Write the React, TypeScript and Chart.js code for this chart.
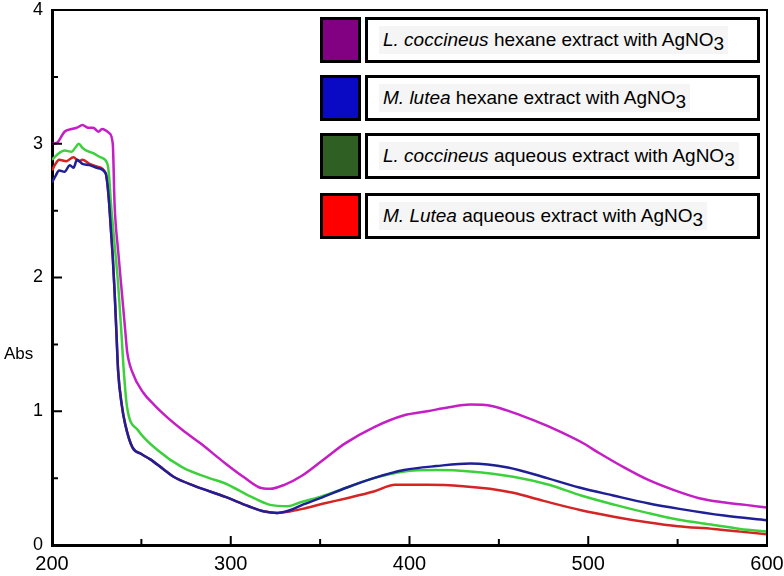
import React, { useEffect, useRef } from "react";
import { Chart, registerables } from "chart.js";
Chart.register(...registerables);

// L. coccineus hexane extract with AgNO3
const lcHexNm = [200, 203, 207, 211, 214, 217, 220, 223, 226, 228, 230, 232, 234, 235, 237, 239, 241, 242, 245, 251, 257, 264, 273, 283, 297, 307, 316, 322, 330, 340, 352, 364, 380, 397, 410, 422, 434, 446, 458, 470, 479, 496, 507, 520, 533, 548, 562, 575, 588, 600];
const lcHexAbs = [3.0, 3.01, 3.09, 3.11, 3.12, 3.14, 3.12, 3.12, 3.09, 3.11, 3.1, 3.08, 3.0, 2.55, 2.2, 1.9, 1.6, 1.45, 1.29, 1.14, 1.05, 0.96, 0.86, 0.76, 0.61, 0.51, 0.43, 0.42, 0.45, 0.52, 0.64, 0.76, 0.88, 0.97, 1.0, 1.03, 1.05, 1.04, 0.99, 0.93, 0.88, 0.77, 0.68, 0.58, 0.49, 0.41, 0.35, 0.32, 0.3, 0.28];

// M. lutea hexane extract with AgNO3
const mlHexNm = [200, 202, 204, 207, 210, 212, 214, 217, 221, 225, 230, 231, 232, 233, 234, 235, 236, 237, 239, 241, 245, 250, 255, 262, 268, 280, 297, 310, 319, 326, 333, 340, 350, 365, 380, 397, 415, 434, 455, 477, 495, 514, 534, 551, 576, 600];
const mlHexAbs = [2.71, 2.76, 2.8, 2.79, 2.84, 2.82, 2.88, 2.85, 2.84, 2.82, 2.78, 2.7, 2.55, 2.35, 2.15, 1.9, 1.6, 1.3, 1.05, 0.9, 0.73, 0.68, 0.64, 0.57, 0.51, 0.44, 0.36, 0.29, 0.25, 0.24, 0.26, 0.3, 0.35, 0.43, 0.5, 0.56, 0.59, 0.61, 0.58, 0.5, 0.43, 0.37, 0.31, 0.27, 0.22, 0.185];

// L. coccineus aqueous extract with AgNO3
const lcAqNm = [200, 203, 207, 211, 213, 215, 217, 219, 223, 227, 231, 232, 233, 235, 237, 239, 240, 242, 248, 259, 273, 288, 297, 310, 322, 332, 339, 350, 365, 380, 397, 415, 434, 458, 478, 496, 515, 533, 550, 570, 585, 600];
const lcAqAbs = [2.88, 2.92, 2.95, 2.94, 2.97, 3.0, 2.97, 2.95, 2.93, 2.9, 2.85, 2.75, 2.55, 2.25, 1.95, 1.55, 1.33, 1.03, 0.86, 0.71, 0.58, 0.5, 0.46, 0.37, 0.3, 0.29, 0.32, 0.36, 0.43, 0.5, 0.55, 0.56, 0.55, 0.51, 0.45, 0.37, 0.3, 0.24, 0.19, 0.15, 0.12, 0.1];

// M. Lutea aqueous extract with AgNO3
const mlAqNm = [200, 202, 204, 208, 212, 215, 217, 221, 225, 230, 231, 232, 233, 234, 235, 236, 237, 239, 241, 245, 250, 255, 262, 268, 280, 297, 310, 319, 326, 333, 340, 352, 365, 380, 392, 410, 430, 445, 458, 475, 496, 515, 533, 550, 570, 585, 600];
const mlAqAbs = [2.8, 2.85, 2.88, 2.87, 2.9, 2.87, 2.88, 2.85, 2.83, 2.78, 2.7, 2.55, 2.35, 2.15, 1.9, 1.6, 1.3, 1.05, 0.9, 0.73, 0.68, 0.64, 0.57, 0.51, 0.44, 0.36, 0.29, 0.25, 0.24, 0.25, 0.27, 0.31, 0.35, 0.4, 0.45, 0.45, 0.44, 0.42, 0.39, 0.33, 0.26, 0.21, 0.17, 0.14, 0.12, 0.1, 0.08];

const xMajorTicks = [200, 300, 400, 500, 600];
const xMinorTicks = [250, 350, 450, 550];
const yMajorTicks = [0, 1, 2, 3, 4];
const yMinorTicks = [0.5, 1.5, 2.5, 3.5];

const legendSpecies = ["L. coccineus", "M. lutea", "L. coccineus", "M. Lutea"];
const legendRest = [" hexane extract with AgNO", " hexane extract with AgNO", " aqueous extract with AgNO", " aqueous extract with AgNO"];
const legendSub = ["3", "3", "3", "3"];
const swatchColors = ["#820082", "#0a0ac4", "#2f5f22", "#ff0000"];
const lineColors = ["#c41ec4", "#1f1f96", "#3cd13c", "#d42424"];

const FONT = '"Liberation Sans", Arial, Helvetica, sans-serif';

function toPts(xs: number[], ys: number[]) {
  return xs.map((x, i) => ({ x, y: ys[i] }));
}

const framePlugin = {
  id: "frameTicks",
  afterDraw(chart: any) {
    const { ctx, chartArea, scales } = chart;
    const xs = scales.x;
    const ys = scales.y;
    ctx.save();
    ctx.strokeStyle = "#000";
    ctx.lineWidth = 2;
    ctx.beginPath();
    ctx.moveTo(chartArea.left, chartArea.top);
    ctx.lineTo(chartArea.right, chartArea.top);
    ctx.lineTo(chartArea.right, chartArea.bottom);
    ctx.stroke();
    ctx.lineWidth = 2;
    ctx.beginPath();
    xMajorTicks.forEach((v) => {
      const px = xs.getPixelForValue(v);
      ctx.moveTo(px, chartArea.bottom);
      ctx.lineTo(px, chartArea.bottom - 9);
    });
    xMinorTicks.forEach((v) => {
      const px = xs.getPixelForValue(v);
      ctx.moveTo(px, chartArea.bottom);
      ctx.lineTo(px, chartArea.bottom - 6);
    });
    yMajorTicks.forEach((v) => {
      const py = ys.getPixelForValue(v);
      ctx.moveTo(chartArea.left, py);
      ctx.lineTo(chartArea.left + 10, py);
    });
    yMinorTicks.forEach((v) => {
      const py = ys.getPixelForValue(v);
      ctx.moveTo(chartArea.left, py);
      ctx.lineTo(chartArea.left + 6, py);
    });
    ctx.stroke();
    ctx.restore();
  },
};

export default function App() {
  const ref = useRef<HTMLCanvasElement>(null);
  useEffect(() => {
    document.body.style.margin = "0";
    const series = [
      toPts(lcHexNm, lcHexAbs),
      toPts(mlHexNm, mlHexAbs),
      toPts(lcAqNm, lcAqAbs),
      toPts(mlAqNm, mlAqAbs),
    ];
    const chart = new Chart(ref.current as HTMLCanvasElement, {
      type: "line",
      data: {
        datasets: series.map((d, i) => ({
          label: legendSpecies[i] + legendRest[i] + legendSub[i],
          data: d,
          borderColor: lineColors[i],
          borderWidth: 2.5,
          pointRadius: 0,
          fill: false,
          cubicInterpolationMode: "monotone" as const,
        })),
      },
      options: {
        responsive: false,
        animation: false,
        layout: { padding: { top: 10, right: 17, left: 0, bottom: 0 } },
        plugins: { legend: { display: false }, tooltip: { enabled: false } },
        scales: {
          x: {
            type: "linear",
            min: 200,
            max: 600,
            afterFit: (s: any) => { s.height = 31; s.paddingLeft = 0; s.paddingRight = 0; },
            afterBuildTicks: (s: any) => { s.ticks = xMajorTicks.map((v) => ({ value: v })); },
            grid: { display: false, drawTicks: false },
            border: { display: true, color: "#000", width: 3 },
            ticks: { color: "#000", padding: 7, font: { family: FONT, size: 20 }, maxRotation: 0 },
          },
          y: {
            type: "linear",
            min: 0,
            max: 4,
            afterFit: (s: any) => { s.width = 52; s.paddingTop = 0; s.paddingBottom = 0; },
            afterBuildTicks: (s: any) => { s.ticks = yMajorTicks.map((v) => ({ value: v })); },
            grid: { display: false, drawTicks: false },
            border: { display: true, color: "#000", width: 3 },
            ticks: { color: "#000", padding: 9, font: { family: FONT, size: 18 } },
          },
        },
      },
      plugins: [framePlugin],
    } as any);
    return () => chart.destroy();
  }, []);

  const rowTops = [17, 75, 133, 193];
  return (
    <div style={{ position: "relative", width: 784, height: 576, fontFamily: FONT, color: "#000" }}>
      <canvas ref={ref} width={784} height={576} style={{ display: "block" }} />
      <div style={{ position: "absolute", left: 4, top: 344, fontSize: 17 }}>Abs</div>
      {legendSpecies.map((sp, i) => (
        <React.Fragment key={i}>
          <div
            style={{
              position: "absolute",
              left: 320,
              top: rowTops[i],
              width: 41,
              height: 46,
              boxSizing: "border-box",
              border: "3px solid #000",
              background: swatchColors[i],
            }}
          />
          <div
            style={{
              position: "absolute",
              left: 365,
              top: rowTops[i],
              width: 395,
              height: 46,
              boxSizing: "border-box",
              border: "3px solid #000",
              background: "#fff",
              display: "flex",
              alignItems: "center",
              paddingLeft: 11,
              fontSize: 19,
              whiteSpace: "nowrap",
            }}
          >
            <span style={{ background: "#f5f5f5", padding: "3px 4px" }}>
              <i>{sp}</i>
              {legendRest[i]}
              <span style={{ position: "relative", top: 4 }}>{legendSub[i]}</span>
            </span>
          </div>
        </React.Fragment>
      ))}
    </div>
  );
}
